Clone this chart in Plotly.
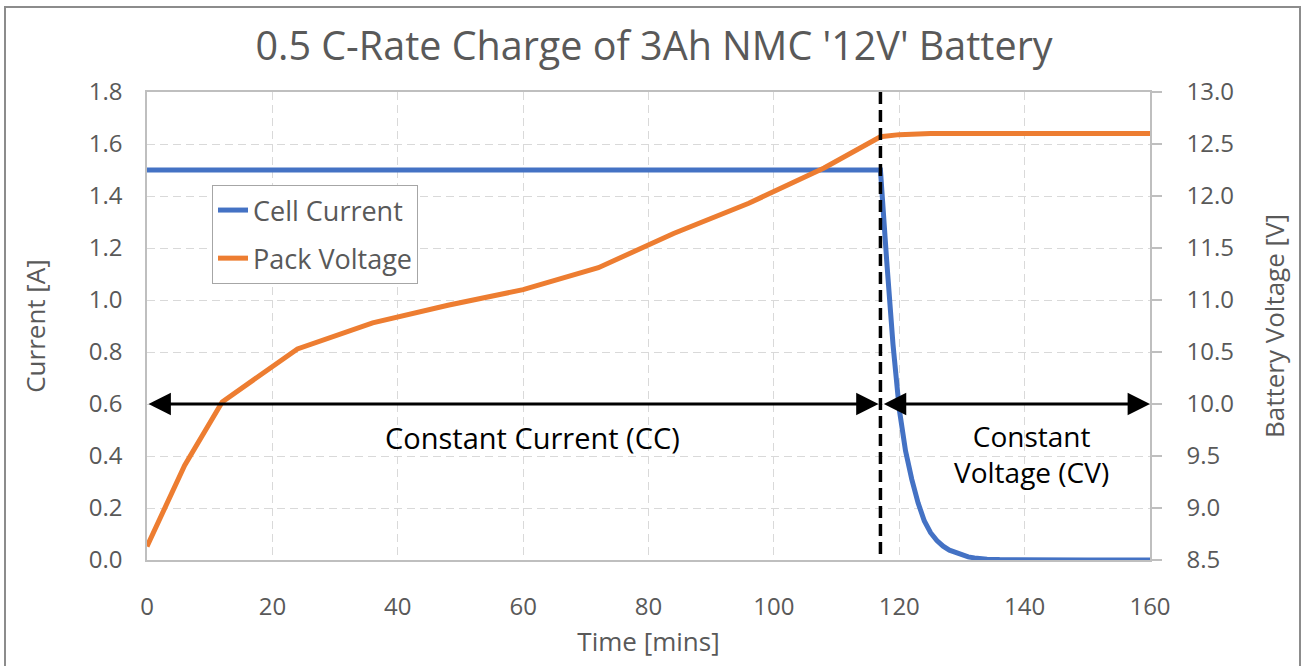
import plotly.graph_objects as go

# Cell current during the charge (A)
current_time = [0, 20, 40, 60, 80, 100, 117, 118, 119, 120, 121, 122, 123, 124,
                125, 126, 127, 128, 129, 130, 131, 132, 133, 134, 136, 138, 140, 150, 160]
current_amps = [1.5, 1.5, 1.5, 1.5, 1.5, 1.5, 1.5, 1.15, 0.83, 0.58, 0.42, 0.31, 0.22, 0.15,
                0.105, 0.075, 0.053, 0.038, 0.028, 0.019, 0.012, 0.008, 0.005, 0.003,
                0.0015, 0.001, 0.0, 0.0, 0.0]

# Pack voltage during the charge (V)
voltage_time = [0, 6, 12, 24, 36, 48, 60, 72, 84, 96, 108, 117, 120, 125, 140, 160]
voltage_volts = [8.63, 9.41, 10.02, 10.53, 10.78, 10.95, 11.1, 11.31, 11.64, 11.93,
                 12.27, 12.57, 12.59, 12.6, 12.6, 12.6]

cc_cv_switch = 117
arrow_level = 0.6

title_text = "0.5 C-Rate Charge of 3Ah NMC '12V' Battery"
FONT = "Open Sans"
GREY_TXT = "#595959"
GRID = "#d9d9d9"
AXIS = "#bfbfbf"

fig = go.Figure()
fig.add_trace(go.Scatter(x=current_time, y=current_amps, mode="lines", name="Cell Current",
                         line=dict(color="#4472C4", width=5), legendgroup="a"))
fig.add_trace(go.Scatter(x=voltage_time, y=voltage_volts, mode="lines", name="Pack Voltage",
                         line=dict(color="#ED7D31", width=5), yaxis="y2", legendgroup="b"))

W, H = 1304, 666
L, R, T, B = 147, 154, 92, 106
pw, ph = W - L - R, H - T - B


def px_x(p):
    return (p - L) / pw


def px_y(p):
    return (H - B - p) / ph


TICK = dict(size=24, color=GREY_TXT, family=FONT)
ATITLE = dict(size=26, color=GREY_TXT, family=FONT)

fig.update_layout(
    width=W, height=H,
    margin=dict(l=L, r=R, t=T, b=B),
    paper_bgcolor="white", plot_bgcolor="white",
    font=dict(family=FONT, color=GREY_TXT, size=22),
    title=dict(text=title_text, x=px_x(654), xref="paper", xanchor="center",
               y=1 - 46 / H, yanchor="middle",
               font=dict(size=39.5, color=GREY_TXT, family=FONT)),
    showlegend=True,
    legend=dict(x=px_x(212), y=px_y(185), xanchor="left", yanchor="top",
                bordercolor="#a6a6a6", borderwidth=1, bgcolor="white",
                font=dict(size=27, color=GREY_TXT, family=FONT),
                traceorder="grouped", tracegroupgap=10, itemwidth=30,
                entrywidth=185, entrywidthmode="pixels"),
    xaxis=dict(range=[0, 160], dtick=20, tick0=0, showgrid=True, gridcolor=GRID,
               griddash="8px,5px", gridwidth=1, showline=True, linecolor=AXIS, linewidth=1.5,
               mirror=True, zeroline=False, ticks="", ticklabelstandoff=24,
               tickfont=TICK, automargin=False,
               title=dict(text="Time [mins]", font=ATITLE, standoff=12)),
    yaxis=dict(range=[0, 1.8], dtick=0.2, tickformat=".1f", showgrid=True, gridcolor=GRID,
               griddash="8px,5px", gridwidth=1, showline=True, linecolor=AXIS, linewidth=1.5,
               mirror=True, zeroline=False, ticks="", ticklabelstandoff=18,
               tickfont=TICK, automargin=False,
               title=dict(text="Current [A]", font=ATITLE, standoff=36)),
    yaxis2=dict(range=[8.5, 13.0], dtick=0.5, tickformat=".1f", overlaying="y", side="right",
                showgrid=False, showline=True, linecolor=AXIS, linewidth=1.5, zeroline=False,
                ticks="outside", ticklen=10, tickcolor=AXIS, tickwidth=1.5,
                ticklabelstandoff=20, tickfont=TICK, automargin=False,
                title=dict(text="Battery Voltage [V]", font=ATITLE, standoff=33)),
)

# CC / CV boundary
fig.add_shape(type="line", xref="x", yref="y", x0=cc_cv_switch, x1=cc_cv_switch,
              y0=-0.046, y1=1.8, line=dict(color="black", width=3.5, dash="12px,6px"))

# Double-headed arrows spanning each charging phase
for x_start, x_end in [(0, cc_cv_switch - 0.3), (cc_cv_switch + 0.3, 160)]:
    fig.add_annotation(x=x_end, y=arrow_level, ax=x_start, ay=arrow_level,
                       xref="x", yref="y", axref="x", ayref="y", text="",
                       showarrow=True, arrowhead=2, arrowside="end+start",
                       arrowsize=1.6, arrowwidth=2.8, arrowcolor="black", startarrowhead=2,
                       startarrowsize=1.6)

fig.add_annotation(x=px_x(532), y=px_y(437), xref="paper", yref="paper",
                   xanchor="center", yanchor="middle",
                   text="Constant Current (CC)", showarrow=False,
                   font=dict(size=29, color="black", family=FONT))
fig.add_annotation(x=px_x(1031), y=px_y(454), xref="paper", yref="paper",
                   xanchor="center", yanchor="middle",
                   text="Constant<br>Voltage (CV)", showarrow=False,
                   font=dict(size=28, color="black", family=FONT))

# Outer chart frame
fig.add_shape(type="rect", xref="paper", yref="paper",
              x0=px_x(5), x1=px_x(1300), y0=px_y(700), y1=px_y(7),
              line=dict(color="#8c8c8c", width=2), fillcolor="rgba(0,0,0,0)", layer="below")

fig.write_html("out.html")
